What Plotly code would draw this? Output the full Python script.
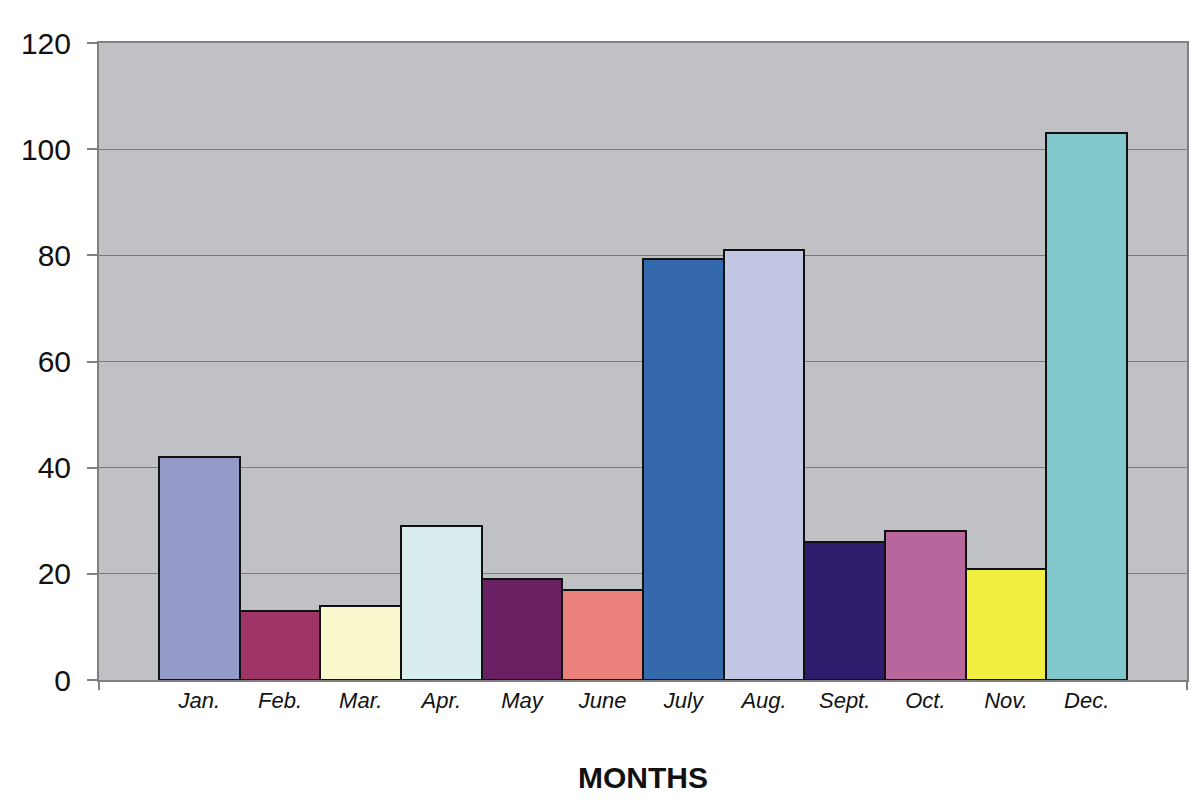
import plotly.graph_objects as go

months = ["Jan.", "Feb.", "Mar.", "Apr.", "May", "June", "July", "Aug.", "Sept.", "Oct.", "Nov.", "Dec."]
values = [42, 13, 14, 29, 19, 17, 79.3, 81, 26, 28, 21, 103]
colors = ["#949BC9", "#9E3566", "#F8F8CC", "#D9ECEE", "#6A2063", "#EB817B",
          "#346AAC", "#C2C7E3", "#2E1C6C", "#B8679C", "#F1EF3F", "#80C8CC"]
y_ticks = [0, 20, 40, 60, 80, 100, 120]

positions = list(range(len(months)))

fig = go.Figure(go.Bar(
    x=positions, y=values,
    marker=dict(color=colors, line=dict(color="#111111", width=2)),
    width=1.0,
))

fig.update_layout(
    width=1184, height=789,
    margin=dict(l=91, r=5, t=35, b=117, autoexpand=False),
    paper_bgcolor="white", plot_bgcolor="#C0C1C5",
    showlegend=False, bargap=0,
    font=dict(family="Liberation Sans, Arial", color="#111111"),
)
fig.update_xaxes(
    tickmode="array", tickvals=positions, ticktext=[f"<i>{m}</i>" for m in months],
    range=[-1.244, 12.244],
    tickfont=dict(size=22, family="Liberation Sans, Arial"),
    showgrid=False, zeroline=False,
    showline=True, linecolor="#808080", linewidth=2, mirror=True,
    ticks="", ticklabelstandoff=0, automargin=False,
    title=dict(text="<b>MONTHS</b>", font=dict(size=30), standoff=55),
)
fig.update_yaxes(
    range=[0, 120], tickvals=y_ticks,
    tickfont=dict(size=30),
    showgrid=True, gridcolor="#7A7A7A", gridwidth=1,
    zeroline=False, automargin=False,
    showline=True, linecolor="#808080", linewidth=2, mirror=True,
    ticks="outside", ticklen=10, tickcolor="#808080", tickwidth=1.5,
    ticklabelstandoff=10,
)

# small end ticks below the category axis
for xp in [0, 1]:
    fig.add_shape(type="line", xref="paper", yref="paper", x0=xp, x1=xp, y0=0, y1=-0.016,
                  line=dict(color="#808080", width=2))

fig.write_html("out.html")
